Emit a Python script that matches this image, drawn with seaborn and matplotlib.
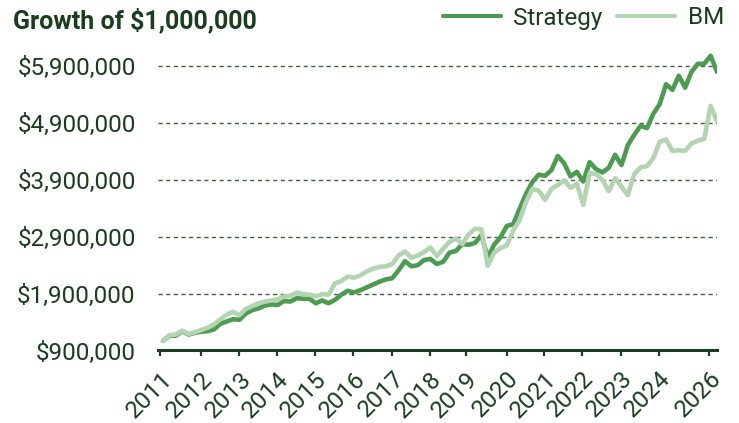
import numpy as np
import pandas as pd
import matplotlib.pyplot as plt
import seaborn as sns

# --- Data (values in $ millions, one point every ~2 months) ---

strategy = [
    1.07, 1.16, 1.16, 1.24, 1.18, 1.21, 1.23, 1.24, 1.27, 1.37,
    1.41, 1.45, 1.44, 1.55, 1.61, 1.64, 1.69, 1.71, 1.70, 1.77,
    1.76, 1.82, 1.81, 1.81, 1.73, 1.78, 1.73, 1.79, 1.88, 1.95,
    1.92, 1.96, 2.01, 2.06, 2.11, 2.15, 2.17, 2.31, 2.47, 2.38,
    2.40, 2.49, 2.51, 2.42, 2.46, 2.62, 2.65, 2.77, 2.76, 2.79,
    2.93, 2.53, 2.76, 2.89, 3.09, 3.12, 3.39, 3.65, 3.86, 3.99,
    3.97, 4.07, 4.32, 4.19, 3.96, 4.04, 3.87, 4.21, 4.09, 4.03,
    4.11, 4.34, 4.16, 4.51, 4.69, 4.85, 4.81, 5.06, 5.23, 5.58,
    5.48, 5.73, 5.52, 5.80, 5.94, 5.94, 6.08, 5.80,
]
bm = [
    1.07, 1.17, 1.18, 1.25, 1.19, 1.22, 1.26, 1.30, 1.36, 1.45,
    1.53, 1.58, 1.52, 1.63, 1.68, 1.73, 1.76, 1.78, 1.80, 1.85,
    1.86, 1.92, 1.89, 1.88, 1.85, 1.89, 1.88, 2.08, 2.12, 2.20,
    2.18, 2.22, 2.29, 2.34, 2.37, 2.38, 2.42, 2.57, 2.64, 2.53,
    2.57, 2.63, 2.71, 2.56, 2.69, 2.81, 2.87, 2.77, 2.94, 3.04,
    3.03, 2.39, 2.62, 2.70, 2.75, 3.01, 3.19, 3.51, 3.74, 3.71,
    3.55, 3.74, 3.81, 3.89, 3.76, 3.83, 3.46, 4.02, 4.00, 3.90,
    3.70, 3.93, 3.78, 3.63, 4.00, 4.12, 4.14, 4.28, 4.57, 4.61,
    4.41, 4.42, 4.41, 4.54, 4.59, 4.62, 5.20, 4.93,
]
tick_pos = [-0.4, 6, 12, 17.9, 23.9, 29.9, 36, 41.9, 47.6, 54, 59.9, 65.8, 71.9, 77.9, 85.8]
tick_labels = ["2011", "2012", "2013", "2014", "2015", "2016", "2017", "2018",
               "2019", "2020", "2021", "2022", "2023", "2024", "2026"]
y_ticks = [900000, 1900000, 2900000, 3900000, 4900000, 5900000]

n = len(strategy)
df = pd.DataFrame({
    "period": list(range(n)) * 2,
    "value": [v * 1e6 for v in strategy] + [v * 1e6 for v in bm],
    "series": ["Strategy"] * n + ["BM"] * n,
})

# --- Style ---

sns.set_theme(style="white")
plt.rcParams["font.family"] = ["Roboto", "DejaVu Sans"]

text_col = "#1a3d1f"
palette = {"Strategy": "#4C9B50", "BM": "#B3D4B0"}

fig = plt.figure(figsize=(7.39, 4.23), dpi=100)
ax = fig.add_axes([0.2137, 0.1714, 0.7565, 0.7222])

sns.lineplot(
    data=df, x="period", y="value", hue="series",
    hue_order=["Strategy", "BM"], palette=palette,
    linewidth=3.3, ax=ax, legend=False,
)

ax.set_xlim(-0.8, 87)
ax.set_ylim(900000, 6270000)
ax.set_yticks(y_ticks)
ax.set_yticklabels([f"${v:,.0f}" for v in y_ticks])
ax.set_xticks(tick_pos)
ax.set_xticklabels(tick_labels, rotation=45, ha="right", rotation_mode="anchor")
ax.set_xlabel("")
ax.set_ylabel("")

ax.grid(axis="y", linestyle=(0, (3, 2.5)), linewidth=1.0, color="#48594b")
ax.grid(axis="x", visible=False)
ax.set_axisbelow(True)

for side in ["top", "right", "left"]:
    ax.spines[side].set_visible(False)
ax.spines["bottom"].set_color(text_col)
ax.spines["bottom"].set_linewidth(2.2)

ax.tick_params(axis="y", length=0, pad=16, labelsize=17.5, labelcolor=text_col)
ax.tick_params(axis="x", direction="out", length=4, width=1.6, color=text_col,
               pad=8, labelsize=17.5, labelcolor=text_col, bottom=True)

# legend at the top right
handles = [plt.Line2D([], [], color=palette[k], linewidth=3.0) for k in ["Strategy", "BM"]]
leg = fig.legend(
    handles, ["Strategy", "BM"], ncol=2, frameon=False,
    loc="center right", bbox_to_anchor=(724 / 739, 1 - 18 / 423),
    fontsize=17.5, handlelength=2.4, handletextpad=0.5, columnspacing=0.6,
    borderpad=0, borderaxespad=0,
)
for t in leg.get_texts():
    t.set_color(text_col)

fig.text(13 / 739, 1 - 28 / 423, "Growth of $1,000,000", fontsize=18,
         fontweight="bold", color=text_col, va="baseline", ha="left")

fig.savefig("out.png", dpi=100)
